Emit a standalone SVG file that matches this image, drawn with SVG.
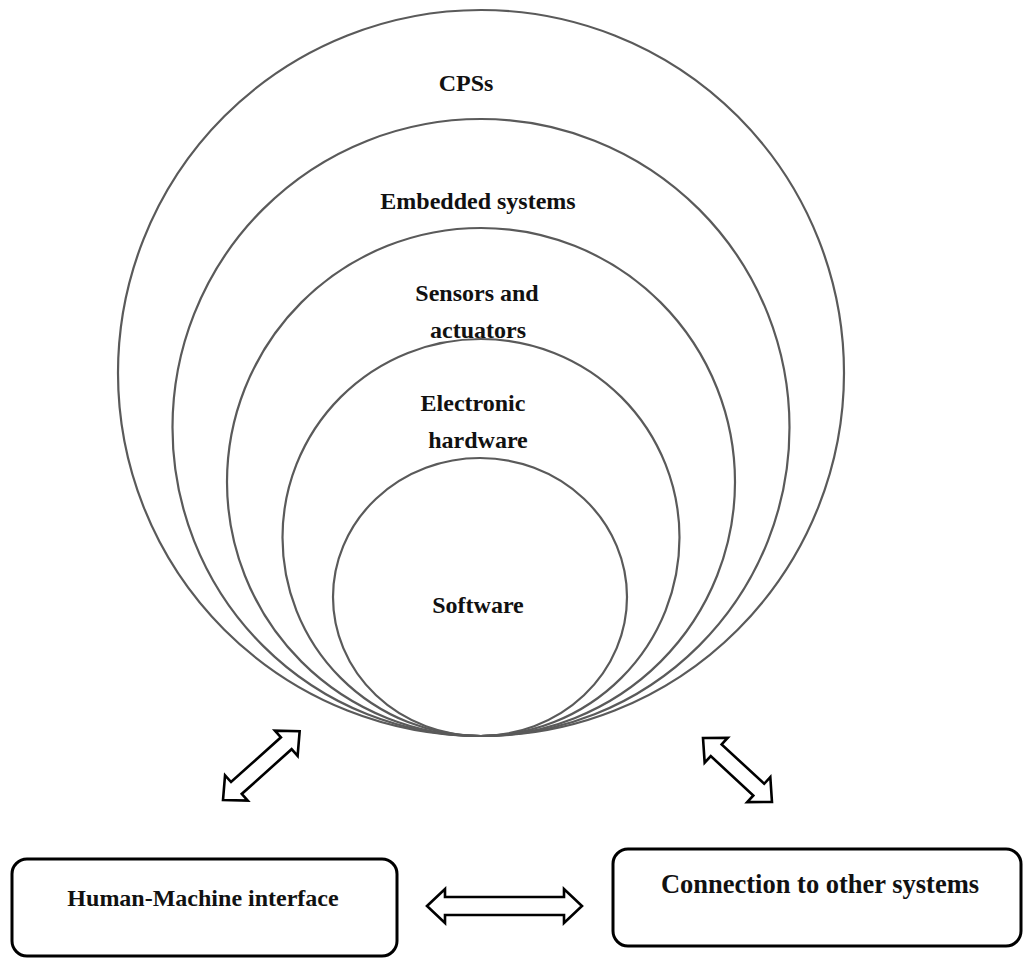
<svg xmlns="http://www.w3.org/2000/svg" width="1024" height="958" viewBox="0 0 1024 958">
<style>
.ring{fill:none;stroke:#5a5a5a;stroke-width:2.2}
.lbl{font-family:"Liberation Serif","Times New Roman",serif;font-weight:bold;font-size:24px;fill:#111;text-anchor:middle}
.box{fill:#fff;stroke:#000;stroke-width:3}
.arr{fill:#fff;stroke:#000;stroke-width:2.6;stroke-linejoin:miter}
</style>
<rect width="1024" height="958" fill="#fff"/>
<g id="cpss"><circle class="ring" cx="481" cy="373" r="363"/><text class="lbl" x="466" y="91">CPSs</text></g>
<g id="embedded"><circle class="ring" cx="481" cy="427.5" r="308.5"/><text class="lbl" x="478" y="209">Embedded systems</text></g>
<g id="sensors"><circle class="ring" cx="481" cy="482" r="254"/><text class="lbl" x="477" y="301">Sensors and</text><text class="lbl" x="478" y="338">actuators</text></g>
<g id="electronic"><circle class="ring" cx="481" cy="537.5" r="198.5"/><text class="lbl" x="473" y="411">Electronic</text><text class="lbl" x="478" y="448">hardware</text></g>
<g id="software"><ellipse class="ring" cx="480" cy="597" rx="147" ry="139"/><text class="lbl" x="478" y="613">Software</text></g>
<g id="hmi"><rect class="box" x="12" y="859" width="385" height="97" rx="15"/><text class="lbl" x="203" y="906">Human-Machine interface</text></g>
<g id="other"><rect class="box" x="613" y="849" width="408" height="97" rx="15"/><text class="lbl" x="820" y="893" style="font-size:26.5px">Connection to other systems</text></g>
<g id="connectors">
<path class="arr" d="M427,906 L445,889 L445,897 L564,897 L564,889 L582,906 L564,923 L564,915 L445,915 L445,923 Z"/>
<path class="arr" transform="translate(223,800) rotate(-41.9)" d="M0,0 L18,-17 L18,-8 L85,-8 L85,-17 L103,0 L85,17 L85,8 L18,8 L18,17 Z"/>
<path class="arr" transform="translate(703,738) rotate(42.8)" d="M0,0 L18,-17 L18,-8 L76,-8 L76,-17 L94,0 L76,17 L76,8 L18,8 L18,17 Z"/>
</g>
</svg>
